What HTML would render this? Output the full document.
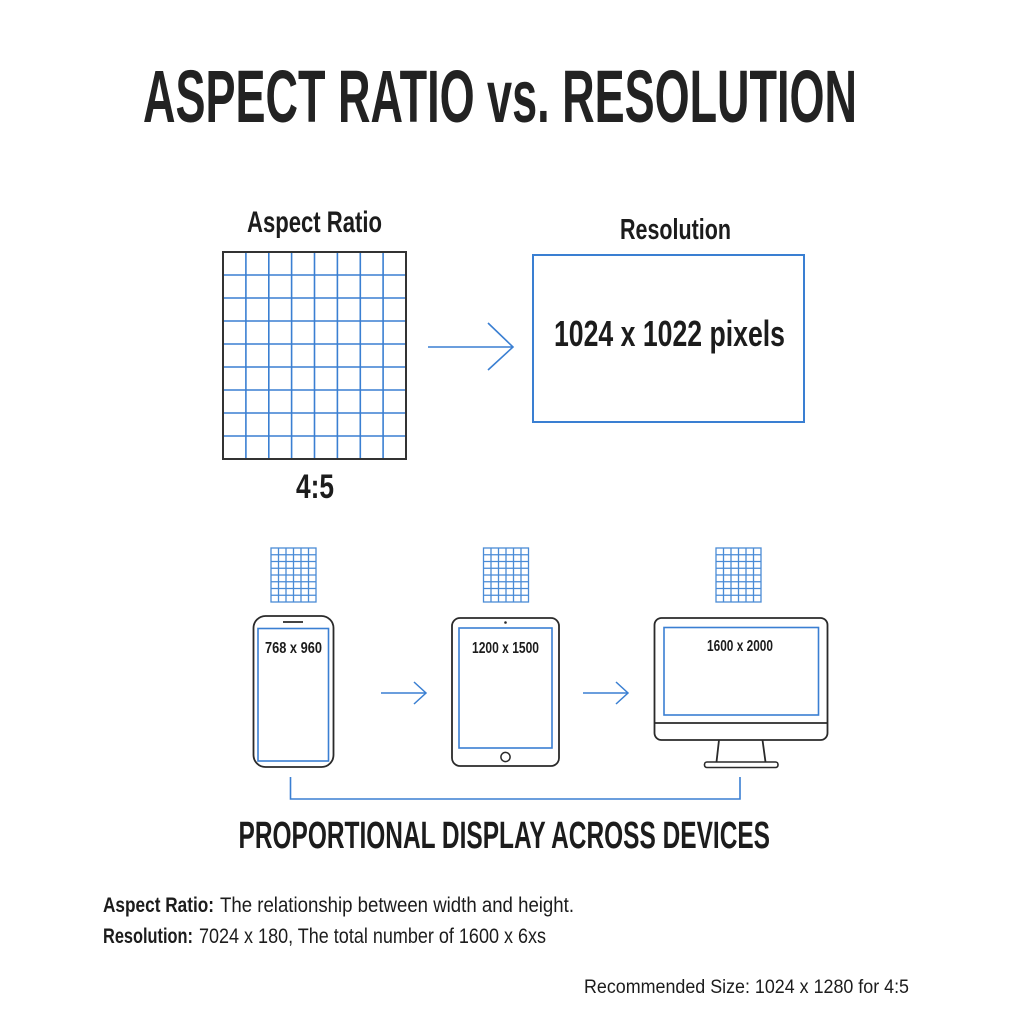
<!DOCTYPE html>
<html>
<head>
<meta charset="utf-8">
<style>
  html, body { margin: 0; padding: 0; background: #ffffff; }
  svg { display: block; }
  text { font-family: "Liberation Sans", "DejaVu Sans", sans-serif; fill: #1c1c1c; }
</style>
</head>
<body>
<svg width="1024" height="1024" viewBox="0 0 1024 1024" xmlns="http://www.w3.org/2000/svg">
  <rect x="0" y="0" width="1024" height="1024" fill="#ffffff"/>

  <!-- Title -->
  <text x="143" y="122" font-size="74" font-weight="bold" textLength="714" lengthAdjust="spacingAndGlyphs" style="fill:#222">ASPECT RATIO vs. RESOLUTION</text>

  <!-- Section labels -->
  <text x="247" y="232" font-size="30" font-weight="bold" textLength="135" lengthAdjust="spacingAndGlyphs">Aspect Ratio</text>
  <text x="620" y="239" font-size="29" font-weight="bold" textLength="111" lengthAdjust="spacingAndGlyphs">Resolution</text>

  <!-- Big grid -->
  <g stroke="#3a7fd2" stroke-width="1.6" fill="none">
    <line x1="245.9" y1="252" x2="245.9" y2="459"/>
    <line x1="268.8" y1="252" x2="268.8" y2="459"/>
    <line x1="291.6" y1="252" x2="291.6" y2="459"/>
    <line x1="314.5" y1="252" x2="314.5" y2="459"/>
    <line x1="337.4" y1="252" x2="337.4" y2="459"/>
    <line x1="360.3" y1="252" x2="360.3" y2="459"/>
    <line x1="383.1" y1="252" x2="383.1" y2="459"/>
    <line x1="223" y1="275" x2="406" y2="275"/>
    <line x1="223" y1="298" x2="406" y2="298"/>
    <line x1="223" y1="321" x2="406" y2="321"/>
    <line x1="223" y1="344" x2="406" y2="344"/>
    <line x1="223" y1="367" x2="406" y2="367"/>
    <line x1="223" y1="390" x2="406" y2="390"/>
    <line x1="223" y1="413" x2="406" y2="413"/>
    <line x1="223" y1="436" x2="406" y2="436"/>
  </g>
  <rect x="223" y="252" width="183" height="207" fill="none" stroke="#333" stroke-width="2"/>
  <text x="296" y="498" font-size="34" font-weight="bold" textLength="38" lengthAdjust="spacingAndGlyphs">4:5</text>

  <!-- Arrow -->
  <g stroke="#3a7fd2" stroke-width="1.6" fill="none">
    <line x1="428" y1="347" x2="513" y2="347"/>
    <polyline points="488,323 513,347 488,370"/>
  </g>

  <!-- Resolution box -->
  <rect x="533" y="255" width="271" height="167" fill="none" stroke="#3a7fd2" stroke-width="2"/>
  <text x="554" y="346" font-size="36" font-weight="bold" textLength="231" lengthAdjust="spacingAndGlyphs">1024 x 1022 pixels</text>

  <!-- Small grids -->
  <g stroke="#4a8bd6" stroke-width="1.3" fill="none">
    <g transform="translate(271,548)">
      <rect x="0" y="0" width="45" height="54"/>
      <path d="M7.5 0V54M15 0V54M22.5 0V54M30 0V54M37.5 0V54M0 6.75H45M0 13.5H45M0 20.25H45M0 27H45M0 33.75H45M0 40.5H45M0 47.25H45"/>
    </g>
    <g transform="translate(483.5,548)">
      <rect x="0" y="0" width="45" height="54"/>
      <path d="M7.5 0V54M15 0V54M22.5 0V54M30 0V54M37.5 0V54M0 6.75H45M0 13.5H45M0 20.25H45M0 27H45M0 33.75H45M0 40.5H45M0 47.25H45"/>
    </g>
    <g transform="translate(716,548)">
      <rect x="0" y="0" width="45" height="54"/>
      <path d="M7.5 0V54M15 0V54M22.5 0V54M30 0V54M37.5 0V54M0 6.75H45M0 13.5H45M0 20.25H45M0 27H45M0 33.75H45M0 40.5H45M0 47.25H45"/>
    </g>
  </g>

  <!-- Phone -->
  <rect x="253.5" y="616" width="80" height="151" rx="12" ry="12" fill="none" stroke="#2a2a2a" stroke-width="1.8"/>
  <line x1="283" y1="622" x2="303" y2="622" stroke="#2a2a2a" stroke-width="1.8"/>
  <rect x="258" y="628.5" width="70.5" height="132.5" fill="none" stroke="#3a7fd2" stroke-width="1.6"/>
  <text x="265" y="653" font-size="16" font-weight="bold" textLength="57" lengthAdjust="spacingAndGlyphs">768 x 960</text>

  <!-- Arrow 1 -->
  <g stroke="#3a7fd2" stroke-width="1.5" fill="none">
    <line x1="381" y1="693" x2="426" y2="693"/>
    <polyline points="414,682 426,693 414,704"/>
  </g>

  <!-- Tablet -->
  <rect x="452" y="618" width="107" height="148" rx="8" ry="8" fill="none" stroke="#2a2a2a" stroke-width="1.8"/>
  <circle cx="505.5" cy="622.5" r="1.3" fill="#2a2a2a"/>
  <rect x="459" y="628" width="93" height="120" fill="none" stroke="#3a7fd2" stroke-width="1.6"/>
  <circle cx="505.5" cy="757" r="4.6" fill="none" stroke="#2a2a2a" stroke-width="1.5"/>
  <text x="472" y="653" font-size="16" font-weight="bold" textLength="67" lengthAdjust="spacingAndGlyphs">1200 x 1500</text>

  <!-- Arrow 2 -->
  <g stroke="#3a7fd2" stroke-width="1.5" fill="none">
    <line x1="583" y1="693" x2="628" y2="693"/>
    <polyline points="616,682 628,693 616,704"/>
  </g>

  <!-- Monitor -->
  <rect x="654.5" y="618" width="173" height="122" rx="7" ry="7" fill="none" stroke="#2a2a2a" stroke-width="1.8"/>
  <line x1="654.5" y1="723" x2="827.5" y2="723" stroke="#2a2a2a" stroke-width="1.8"/>
  <rect x="664" y="627.5" width="154.5" height="87.5" fill="none" stroke="#3a7fd2" stroke-width="1.6"/>
  <path d="M719 740 L716.5 762 M762.5 740 L765.5 762" stroke="#2a2a2a" stroke-width="1.8" fill="none"/>
  <rect x="704.5" y="762" width="73.5" height="5.5" rx="2.5" ry="2.5" fill="none" stroke="#2a2a2a" stroke-width="1.6"/>
  <text x="707" y="651" font-size="16" font-weight="bold" textLength="66" lengthAdjust="spacingAndGlyphs">1600 x 2000</text>

  <!-- Bracket -->
  <polyline points="290.5,777 290.5,799 740,799 740,777" fill="none" stroke="#3a7fd2" stroke-width="1.6"/>

  <text x="238.5" y="848" font-size="38" font-weight="bold" textLength="531.5" lengthAdjust="spacingAndGlyphs">PROPORTIONAL DISPLAY ACROSS DEVICES</text>

  <!-- Footer text -->
  <text x="103" y="912" font-size="21" font-weight="bold" textLength="111" lengthAdjust="spacingAndGlyphs">Aspect Ratio:</text>
  <text x="220" y="912" font-size="21" textLength="354" lengthAdjust="spacingAndGlyphs">The relationship between width and height.</text>
  <text x="103" y="943" font-size="21" font-weight="bold" textLength="90" lengthAdjust="spacingAndGlyphs">Resolution:</text>
  <text x="199" y="943" font-size="21" textLength="347" lengthAdjust="spacingAndGlyphs">7024 x 180, The total number of 1600 x 6xs</text>

  <text x="584" y="993" font-size="19" textLength="325" lengthAdjust="spacingAndGlyphs">Recommended Size: 1024 x 1280 for 4:5</text>
</svg>
</body>
</html>
